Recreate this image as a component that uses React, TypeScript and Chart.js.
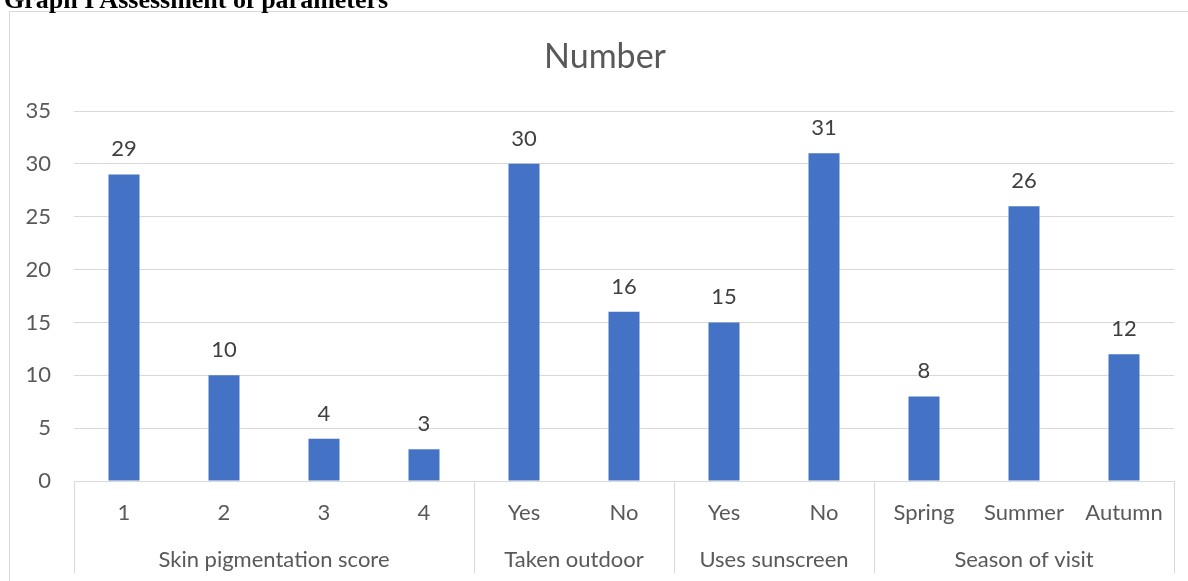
import React, { useEffect, useRef } from 'react';
import { Chart, registerables } from 'chart.js';

Chart.register(...registerables);

const categories = ['1', '2', '3', '4', 'Yes', 'No', 'Yes', 'No', 'Spring', 'Summer', 'Autumn'];
const values = [29, 10, 4, 3, 30, 16, 15, 31, 8, 26, 12];
const groupLabels = ['Skin pigmentation score', 'Taken outdoor', 'Uses sunscreen', 'Season of visit'];
const groupSizes = [4, 2, 2, 3];
const yMin = 0;
const yMax = 35;
const yStep = 5;
const chartTitle = 'Number';
const pageTitle = 'Graph I Assessment of parameters';

const FONT = 'Lato, "Open Sans", sans-serif';
const TEXT = '#595959';
const GRID = '#d9d9d9';

const groupPlugin = {
  id: 'groupAxis',
  afterDraw(chart: any) {
    const ctx = chart.ctx;
    const x = chart.scales.x;
    const area = chart.chartArea;
    const step = x.getPixelForValue(1) - x.getPixelForValue(0);
    ctx.save();
    // chart title
    ctx.fillStyle = TEXT;
    ctx.font = `34px ${FONT}`;
    ctx.textAlign = 'center';
    ctx.textBaseline = 'alphabetic';
    ctx.fillText(chartTitle, 605, 68);

    ctx.strokeStyle = GRID;
    ctx.lineWidth = 1;
    const bounds: number[] = [x.getPixelForValue(0) - step / 2];
    let idx = 0;
    groupSizes.forEach((n) => {
      idx += n;
      bounds.push(x.getPixelForValue(idx - 1) + step / 2);
    });
    bounds.forEach((b) => {
      const px = Math.round(b) + 0.5;
      ctx.beginPath();
      ctx.moveTo(px, area.bottom);
      ctx.lineTo(px, area.bottom + 92);
      ctx.stroke();
    });
    ctx.fillStyle = TEXT;
    ctx.font = `22px ${FONT}`;
    ctx.textAlign = 'center';
    ctx.textBaseline = 'middle';
    groupLabels.forEach((g, i) => {
      ctx.fillText(g, (bounds[i] + bounds[i + 1]) / 2, area.bottom + 79);
    });
    const meta = chart.getDatasetMeta(0);
    ctx.fillStyle = '#404040';
    ctx.textBaseline = 'alphabetic';
    meta.data.forEach((bar: any, i: number) => {
      ctx.fillText(String(values[i]), bar.x, bar.y - 18);
    });
    ctx.restore();
  },
};

export default function App() {
  const ref = useRef<HTMLCanvasElement>(null);
  useEffect(() => {
    if (!ref.current) return;
    const chart = new Chart(ref.current, {
      type: 'bar',
      data: {
        labels: categories,
        datasets: [
          {
            data: values,
            backgroundColor: '#4472C4',
            categoryPercentage: 1,
            barPercentage: 0.31,
          },
        ],
      },
      options: {
        responsive: false,
        animation: false,
        devicePixelRatio: 1,
        layout: { padding: { top: 111, right: 14, left: 0, bottom: 0 } },
        plugins: {
          legend: { display: false },
          tooltip: { enabled: false },
          title: { display: false },
        },
        scales: {
          x: {
            afterFit: (s: any) => {
              s.height = 100;
            },
            grid: { display: false, drawTicks: false },
            border: { display: true, color: GRID },
            ticks: {
              color: TEXT,
              font: { family: FONT, size: 22 },
              padding: 19,
              maxRotation: 0,
              autoSkip: false,
            },
          },
          y: {
            min: yMin,
            max: yMax,
            afterFit: (s: any) => {
              s.width = 74;
            },
            grid: { color: GRID, drawTicks: false },
            border: { display: false },
            ticks: {
              stepSize: yStep,
              color: TEXT,
              font: { family: FONT, size: 22 },
              padding: 23,
            },
          },
        },
      },
      plugins: [groupPlugin],
    });
    return () => chart.destroy();
  }, []);

  return (
    <div style={{ position: 'fixed', left: 0, top: 0, width: 1188, height: 581, overflow: 'hidden', background: '#fff' }}>
      <div
        style={{
          position: 'absolute',
          left: 9,
          top: 11,
          width: 1400,
          height: 800,
          border: `1px solid ${GRID}`,
        }}
      />
      <canvas ref={ref} width={1188} height={581} style={{ position: 'absolute', left: 0, top: 0 }} />
      <div
        style={{
          position: 'absolute',
          left: 4,
          top: -13,
          fontFamily: '"Liberation Serif", "Times New Roman", serif',
          fontWeight: 'bold',
          fontSize: 26,
          lineHeight: '26px',
          whiteSpace: 'nowrap',
          color: '#000',
        }}
      >
        {pageTitle}
      </div>
    </div>
  );
}
